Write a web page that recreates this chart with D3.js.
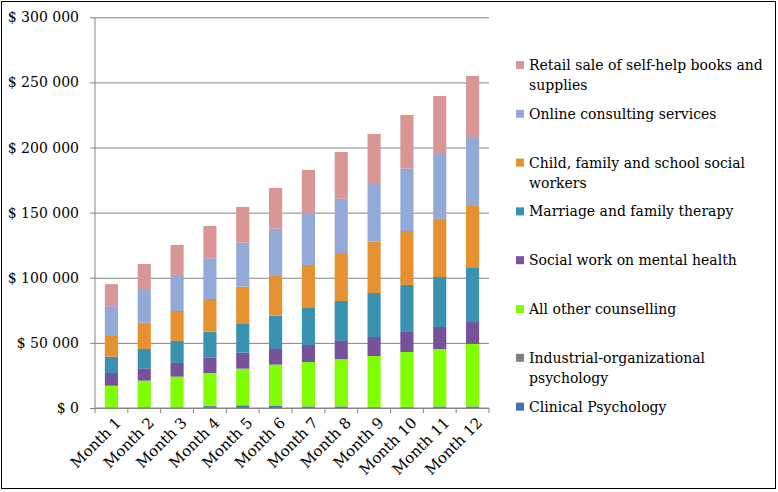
<!DOCTYPE html>
<html>
<head>
<meta charset="utf-8">
<script src="https://cdn.jsdelivr.net/npm/d3@7"></script>
<style>
  body { margin: 0; background: #fff; }
  svg { display: block; }
  text { font-family: "DejaVu Serif", serif; fill: #000; }
</style>
</head>
<body>
<svg id="chart" width="778" height="492"></svg>
<script>
const categories = ["Month 1","Month 2","Month 3","Month 4","Month 5","Month 6","Month 7","Month 8","Month 9","Month 10","Month 11","Month 12"];
const seriesNames = ["Clinical Psychology","Industrial-organizational psychology","All other counselling","Social work on mental health","Marriage and family therapy","Child, family and school social workers","Online consulting services","Retail sale of self-help books and supplies"];
const clinical   = [0, 400, 300, 1400, 1800, 1600, 900, 900, 600, 600, 900, 900];
const industrial = [0, 300, 300, 400, 400, 400, 400, 400, 300, 300, 400, 400];
const otherCoun  = [17100, 20300, 23500, 25100, 28000, 31300, 34000, 36300, 39000, 42100, 44000, 47900];
const socialWork = [9750, 9500, 10500, 11700, 12300, 12000, 13100, 13900, 14600, 15400, 16900, 16800];
const marriage   = [12550, 14800, 16900, 20000, 22000, 25600, 28400, 30700, 33800, 36100, 38400, 41500];
const childFam   = [16600, 20200, 23000, 25100, 28700, 30500, 33000, 36800, 39400, 41400, 44600, 47600];
const online     = [22200, 25100, 27600, 31300, 33800, 36300, 39200, 41700, 44300, 47900, 49800, 52300];
const retail     = [16900, 20000, 23100, 24800, 27400, 31300, 33800, 35900, 38400, 41200, 44600, 47600];
const yTicks = [0, 50000, 100000, 150000, 200000, 250000, 300000];
const colors = ["#4a6fae", "#808080", "#80ff00", "#77519a", "#3993b0", "#e6912f", "#93a9d7", "#d99694"];

(function () {
const seriesValues = [clinical, industrial, otherCoun, socialWork, marriage, childFam, online, retail];
const rows = categories.map((c, i) => {
  const r = { cat: c };
  seriesNames.forEach((s, k) => r[s] = seriesValues[k][i]);
  return r;
});
const stacked = d3.stack().keys(seriesNames)(rows);

const svg = d3.select("#chart");
svg.append("rect").attr("x", 1.5).attr("y", 1.5).attr("width", 774).attr("height", 487)
  .attr("fill", "#fff").attr("stroke", "#000").attr("stroke-width", 1);

const pLeft = 95, pRight = 489, pTop = 17.3, pBottom = 408;
const x = d3.scaleBand().domain(categories).range([pLeft, pRight]).paddingInner(0.6).paddingOuter(0.3);
const y = d3.scaleLinear().domain([0, 300000]).range([pBottom, pTop]);

const fmt = v => "$ " + d3.format(",")(v).replace(/,/g, " ");

const yAxis = d3.axisLeft(y).tickValues(yTicks).tickSize(-(pRight - pLeft)).tickSizeOuter(0).tickFormat(fmt).tickPadding(16);
const gy = svg.append("g").attr("transform", `translate(${pLeft},0)`).call(yAxis);
gy.select(".domain").remove();
gy.selectAll(".tick line").attr("stroke", "#868686").attr("x1", -5);
gy.selectAll(".tick text").style("font-size", "14px").attr("font-family", "DejaVu Serif");

svg.append("g").selectAll("g").data(stacked).join("g")
  .attr("fill", (d, i) => colors[i])
  .selectAll("rect").data(d => d).join("rect")
  .attr("x", d => x(d.data.cat))
  .attr("width", x.bandwidth())
  .attr("y", d => y(d[1]))
  .attr("height", d => Math.max(0, y(d[0]) - y(d[1])));

svg.append("line").attr("x1", pLeft).attr("x2", pLeft).attr("y1", pTop).attr("y2", pBottom).attr("stroke", "#868686");

const xg = svg.append("g");
xg.append("line").attr("x1", pLeft).attr("x2", pRight).attr("y1", pBottom).attr("y2", pBottom).attr("stroke", "#868686");
const step = x.step();
const boundaries = d3.range(categories.length + 1).map(i => pLeft + i * step);
xg.selectAll("line.tk").data(boundaries).join("line").attr("class", "tk")
  .attr("x1", d => d).attr("x2", d => d).attr("y1", pBottom).attr("y2", pBottom + 5).attr("stroke", "#868686");

svg.append("g").selectAll("text").data(categories).join("text")
  .attr("transform", d => `translate(${x(d) + x.bandwidth() / 2 + 7},${pBottom + 12}) rotate(-45)`)
  .attr("text-anchor", "end")
  .attr("dy", "0.35em")
  .style("font-size", "15px")
  .text(d => d);

const legendItems = seriesNames.slice().reverse().map((n, i) => ({ name: n, color: colors[seriesNames.length - 1 - i] }));
const legendLines = {
  "Retail sale of self-help books and supplies": ["Retail sale of self-help books and", "supplies"],
  "Child, family and school social workers": ["Child, family and school social", "workers"],
  "Industrial-organizational psychology": ["Industrial-organizational", "psychology"]
};
const lg = svg.append("g");
legendItems.forEach((it, i) => {
  const cy = 65 + i * 48.8;
  lg.append("rect").attr("x", 516).attr("y", cy - 4).attr("width", 8).attr("height", 8).attr("fill", it.color);
  const lines = legendLines[it.name] || [it.name];
  const t = lg.append("text").attr("x", 529).attr("y", cy).style("font-size", "14px");
  lines.forEach((l, j) => {
    t.append("tspan").attr("x", 529).attr("dy", j === 0 ? "0.35em" : "20px").text(l);
  });
});
})();
</script>
</body>
</html>
